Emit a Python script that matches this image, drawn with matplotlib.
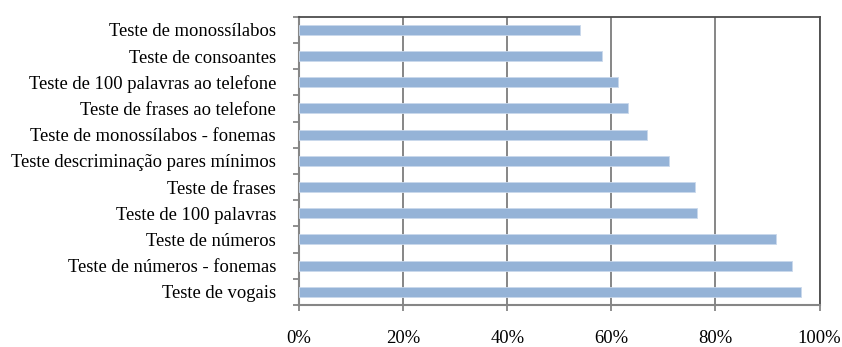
import matplotlib
matplotlib.use("Agg")
import matplotlib.pyplot as plt
from matplotlib.ticker import FixedLocator, PercentFormatter

categories = [
    "Teste de monossílabos",
    "Teste de consoantes",
    "Teste de 100 palavras ao telefone",
    "Teste de frases ao telefone",
    "Teste de monossílabos - fonemas",
    "Teste descriminação pares mínimos",
    "Teste de frases",
    "Teste de 100 palavras",
    "Teste de números",
    "Teste de números - fonemas",
    "Teste de vogais",
]
values = [54.0, 58.3, 61.3, 63.3, 66.8, 71.1, 76.0, 76.4, 91.6, 94.7, 96.4]
x_ticks = [0, 20, 40, 60, 80, 100]

plt.rcParams["font.family"] = ["Liberation Serif", "DejaVu Serif"]

fig = plt.figure(figsize=(8.42, 3.47), dpi=100)
ax = fig.add_axes([299 / 842, 1 - 305 / 347, 520.5 / 842, 288.3 / 347])

pos = list(range(len(categories)))
ax.barh(pos, values, height=0.38, color="#95b3d7", edgecolor="#c9d8ec",
        linewidth=0.6, zorder=3)

ax.set_xlim(0, 100)
ax.set_ylim(len(categories) - 0.5, -0.5)

ax.set_xticks(x_ticks)
ax.xaxis.set_major_formatter(PercentFormatter(decimals=0))
ax.grid(axis="x", color="#868686", linewidth=1.4, zorder=0)

ax.set_yticks(pos)
ax.set_yticklabels(categories)
ax.yaxis.set_minor_locator(FixedLocator([p - 0.5 for p in pos] + [len(pos) - 0.5]))
ax.tick_params(axis="y", which="major", length=0, pad=16.5, labelsize=13.4)
ax.tick_params(axis="y", which="minor", length=4.5, width=1.3, color="#868686")
ax.tick_params(axis="x", length=4, width=1.3, color="#868686", pad=14,
               labelsize=13.4)

for side in ["left", "bottom"]:
    ax.spines[side].set_color("#868686")
    ax.spines[side].set_linewidth(1.5)
for side in ["top", "right"]:
    ax.spines[side].set_color("#4d4d4d")
    ax.spines[side].set_linewidth(1.3)

fig.savefig("out.png", dpi=100)
